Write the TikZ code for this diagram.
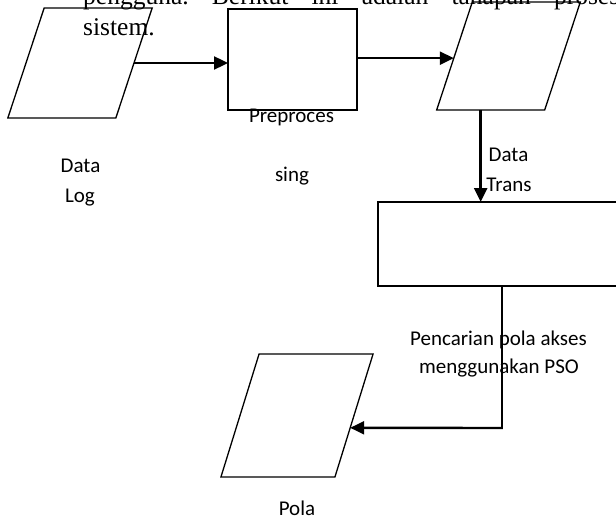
\documentclass[tikz,border=0pt]{standalone}
\usepackage{fontspec}
\setmainfont{Liberation Serif}
\newfontfamily\lblfont{Carlito}
\usetikzlibrary{arrows.meta,calc}
\begin{document}
\begin{tikzpicture}[x=1pt,y=-1pt,
  iobox/.style={draw, line width=1.3pt, inner sep=0pt, outer sep=0pt},
  procbox/.style={draw, line width=1.3pt, inner sep=0pt, outer sep=0pt},
  lbl/.style={inner sep=0pt, anchor=base, font=\lblfont\fontsize{21}{25}\selectfont},
  body/.style={inner sep=0pt, anchor=base west, font=\fontsize{25.5}{31}\selectfont\frenchspacing},
  flow/.style={line width=2.4pt, -{Triangle[length=14pt,width=13pt]}},
  flowthin/.style={line width=1.6pt}]
\useasboundingbox (0,0) rectangle (616,516);
\clip (0,0) rectangle (616,516);

% body text
\node[body] (t1) at (83,5) {\makebox[536pt][s]{pengguna. Berikut ini adalah tahapan proses}};
\node[body] (t2) at (83,36) {sistem.};

% shapes
\node[iobox, minimum width=108pt, minimum height=110pt, xslant=0.33] (p1) at (80,63) {};
\node[procbox, minimum width=129pt, minimum height=101pt] (r1) at (292.5,59.5) {};
\node[iobox, minimum width=108pt, minimum height=108pt, xslant=0.33] (p3) at (508.5,56) {};
\node[procbox, minimum width=246pt, minimum height=84pt] (r2) at (501,244) {};
\node[iobox, minimum width=114pt, minimum height=123pt, xslant=0.31] (p4) at (297,415.5) {};

% labels
\node[lbl] (l1a) at (80.5,172) {Data};
\node[lbl] (l1b) at (80,202) {Log};
\node[lbl] (l2a) at (291.5,123) {Preproces};
\node[lbl] (l2b) at (292,182) {sing};
\node[lbl] (l3a) at (508.5,162) {Data};
\node[lbl] (l3b) at (509,192) {Trans};
\node[lbl] (l4a) at (498.5,345) {Pencarian pola akses};
\node[lbl] (l4b) at (499,373) {menggunakan PSO};
\node[lbl] (l5) at (297,515) {Pola};

% connectors
\coordinate (a1) at ($(p1.south east)!0.5!(p1.north east)$);
\draw[flow] (a1) -- (a1 -| r1.west);
\coordinate (a2) at ($(p3.south west)!0.48!(p3.north west)$);
\draw[flow] (r1.east |- a2) -- (a2);
\coordinate (a3) at ([xshift=-10pt]p3.south);
\draw[flow] (a3) -- (a3 |- r2.north);
\coordinate (bend) at (502,428);
\coordinate (a4) at ($(p4.south east)!0.4!(p4.north east)$);
\draw[flowthin] (r2.south -| bend) -- (bend);
\draw[flow] ([xshift=0.8pt]bend) -- (a4);
\end{tikzpicture}
\end{document}
